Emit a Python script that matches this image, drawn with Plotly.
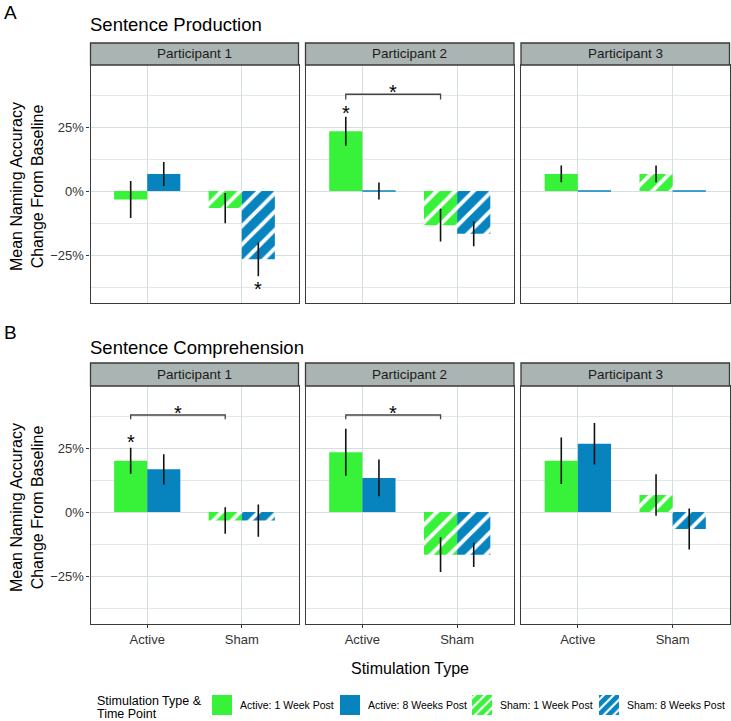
import plotly.graph_objects as go

# ---------------- data ----------------
categories = ["Active", "Sham"]
participants = ["Participant 1", "Participant 2", "Participant 3"]
series_names = ["Active: 1 Week Post", "Active: 8 Weeks Post",
                "Sham: 1 Week Post", "Sham: 8 Weeks Post"]
series_category = ["Active", "Active", "Sham", "Sham"]
series_week = ["1 Week", "8 Weeks", "1 Week", "8 Weeks"]

# mean change from baseline, order = series_names
production_p1 = [-0.0333, 0.0667, -0.0667, -0.2667]
production_p2 = [0.2333, 0.0, -0.1333, -0.1667]
production_p3 = [0.0667, 0.0, 0.0667, 0.0]
production_err_p1 = [0.072, 0.047, 0.059, 0.066]
production_err_p2 = [0.057, 0.033, 0.064, 0.049]
production_err_p3 = [0.033, 0.0, 0.033, 0.0]

comprehension_p1 = [0.20, 0.1667, -0.0333, -0.0333]
comprehension_p2 = [0.2333, 0.1333, -0.1667, -0.1667]
comprehension_p3 = [0.20, 0.2667, 0.0667, -0.0667]
comprehension_err_p1 = [0.051, 0.059, 0.052, 0.063]
comprehension_err_p2 = [0.092, 0.072, 0.068, 0.048]
comprehension_err_p3 = [0.091, 0.081, 0.081, 0.080]

# significance: single stars (section, participant index, series index, y)
star_section = ["A", "A", "B"]
star_participant = [0, 1, 0]
star_series = [3, 0, 0]
star_y = [-0.367, 0.322, 0.290]
# brackets (section, participant index, from series, to series, y, tick bottom)
bracket_section = ["A", "B", "B"]
bracket_participant = [1, 0, 1]
bracket_from = [0, 0, 0]
bracket_to = [2, 2, 2]
bracket_y = [0.378, 0.379, 0.379]
bracket_tick = [0.357, 0.362, 0.362]

y_range = [-0.4375, 0.4922]

sections = [
    dict(key="A", title="Sentence Production",
         means=[production_p1, production_p2, production_p3],
         errs=[production_err_p1, production_err_p2, production_err_p3]),
    dict(key="B", title="Sentence Comprehension",
         means=[comprehension_p1, comprehension_p2, comprehension_p3],
         errs=[comprehension_err_p1, comprehension_err_p2, comprehension_err_p3]),
]

# ---------------- style / layout ----------------
W, H = 731, 721
GREEN = "#38F23A"
BLUE = "#0784BE"
series_color = [GREEN, BLUE, GREEN, BLUE]
series_hatched = [False, False, True, True]
BAR_W = 0.35
GRID = "#D5DFDF"
MINOR = "#E0E8E8"
BORDER = "#3A3A3A"
STRIP_FILL = "#AAB4B2"
FONT = "Liberation Sans, Arial, sans-serif"

panel_x_px = [(90.5, 298.5), (305.5, 514.0), (521.0, 729.5)]
body_y_px = {"A": (65, 303), "B": (386, 624)}
strip_y_px = {"A": (43, 65), "B": (363, 386)}
title_y_px = {"A": 25, "B": 347}
letter_y_px = {"A": 13, "B": 332}


def fx(p):
    return p / W


def fy(p):
    return 1 - p / H


def offset_for(k):
    return -BAR_W if series_week[k] == "1 Week" else 0.0


def center_for(k):
    return categories.index(series_category[k]) + offset_for(k) + BAR_W / 2


fig = go.Figure()
layout = dict(shapes=[], annotations=[])
axis_ids = {}
n = 0
for s_i, sec in enumerate(sections):
    for j in range(3):
        n += 1
        axis_ids[(sec["key"], j)] = n
        xname = "xaxis" if n == 1 else f"xaxis{n}"
        yname = "yaxis" if n == 1 else f"yaxis{n}"
        x0, x1 = panel_x_px[j]
        yb0, yb1 = body_y_px[sec["key"]]
        bottom_row = sec["key"] == "B"
        layout[xname] = dict(
            domain=[fx(x0), fx(x1)], anchor=f"y{n}", type="category",
            categoryorder="array", categoryarray=categories,
            range=[-0.6, 1.6], showgrid=True, gridcolor=GRID, gridwidth=1.2,
            showline=True, mirror=True, linecolor=BORDER, linewidth=1.3,
            ticks="outside" if bottom_row else "", ticklen=3, tickcolor="#333333",
            showticklabels=bottom_row,
            tickfont=dict(size=13, color="#333333", family=FONT),
            zeroline=False, fixedrange=True)
        layout[yname] = dict(
            domain=[fy(yb1), fy(yb0)], anchor=f"x{n}", range=y_range,
            tick0=0, dtick=0.25, tickformat=".0%",
            showgrid=True, gridcolor=GRID, gridwidth=1.2,
            minor=dict(dtick=0.125, tick0=0, showgrid=True, gridcolor=MINOR, gridwidth=0.7),
            showline=True, mirror=True, linecolor=BORDER, linewidth=1.3,
            ticks="outside" if j == 0 else "", ticklen=3, tickcolor="#333333",
            showticklabels=(j == 0),
            tickfont=dict(size=13, color="#333333", family=FONT),
            zeroline=False, fixedrange=True)

        # bars
        for k in range(4):
            v = sec["means"][j][k]
            e = sec["errs"][j][k]
            pattern = (dict(shape="/", fgcolor="white", bgcolor=series_color[k],
                            size=13, solidity=0.3, fillmode="replace")
                       if series_hatched[k] else None)
            fig.add_trace(go.Bar(
                x=[series_category[k]], y=[v], width=BAR_W, offset=offset_for(k),
                marker=dict(color=series_color[k], pattern=pattern,
                            line=dict(width=1 if v == 0 else 0, color=series_color[k])),
                error_y=dict(type="data", array=[e], visible=e > 0,
                             thickness=1.6, width=0, color="#111111"),
                name=series_names[k], showlegend=False,
                xaxis=f"x{n}", yaxis=f"y{n}"))

        # strip
        sy0, sy1 = strip_y_px[sec["key"]]
        layout["shapes"].append(dict(
            type="rect", xref="paper", yref="paper",
            x0=fx(x0), x1=fx(x1), y0=fy(sy1), y1=fy(sy0),
            fillcolor=STRIP_FILL, line=dict(color=BORDER, width=1.3)))
        layout["annotations"].append(dict(
            text=participants[j], xref="paper", yref="paper",
            x=fx((x0 + x1) / 2), y=fy((sy0 + sy1) / 2),
            xanchor="center", yanchor="middle", showarrow=False,
            font=dict(size=13.5, color="#1A1A1A", family=FONT)))

    # section title and letter
    layout["annotations"].append(dict(
        text=sec["title"], xref="paper", yref="paper", x=fx(88), y=fy(title_y_px[sec["key"]]),
        xanchor="left", yanchor="middle", showarrow=False,
        font=dict(size=18.5, color="black", family=FONT)))
    layout["annotations"].append(dict(
        text=sec["key"], xref="paper", yref="paper", x=fx(2), y=fy(letter_y_px[sec["key"]]),
        xanchor="left", yanchor="middle", showarrow=False,
        font=dict(size=19, color="black", family=FONT)))
    yb0, yb1 = body_y_px[sec["key"]]
    layout["annotations"].append(dict(
        text="Mean Naming Accuracy<br>Change From Baseline", xref="paper", yref="paper",
        x=fx(27), y=fy((yb0 + yb1) / 2 + 3), textangle=-90,
        xanchor="center", yanchor="middle", showarrow=False,
        font=dict(size=16, color="black", family=FONT)))

# significance stars
for sec_key, pj, k, yv in zip(star_section, star_participant, star_series, star_y):
    n = axis_ids[(sec_key, pj)]
    layout["annotations"].append(dict(
        text="*", x=center_for(k), y=yv, xref=f"x{n}", yref=f"y{n}",
        xanchor="center", yanchor="middle", yshift=-4, showarrow=False,
        font=dict(size=20, color="black", family=FONT)))

for sec_key, pj, k0, k1, yv, yt in zip(bracket_section, bracket_participant, bracket_from,
                                        bracket_to, bracket_y, bracket_tick):
    n = axis_ids[(sec_key, pj)]
    xa, xb = center_for(k0), center_for(k1)
    layout["shapes"].append(dict(
        type="path", xref=f"x{n}", yref=f"y{n}",
        path=f"M {xa} {yt} L {xa} {yv} L {xb} {yv} L {xb} {yt}",
        line=dict(color="#444444", width=1.3)))
    layout["annotations"].append(dict(
        text="*", x=(xa + xb) / 2, y=yv + 0.024, xref=f"x{n}", yref=f"y{n}",
        xanchor="center", yanchor="middle", yshift=-4, showarrow=False,
        font=dict(size=20, color="black", family=FONT)))

# x-axis title
layout["annotations"].append(dict(
    text="Stimulation Type", xref="paper", yref="paper", x=fx(410), y=fy(668),
    xanchor="center", yanchor="middle", showarrow=False,
    font=dict(size=16, color="black", family=FONT)))

# ---------------- legend (drawn as its own small axes) ----------------
key_left_px = [212, 340, 472, 599]
KEY = 20
layout["xaxis7"] = dict(domain=[0, 1], range=[0, W], visible=False, anchor="y7", fixedrange=True)
layout["yaxis7"] = dict(domain=[fy(715), fy(695)], range=[0, 1], visible=False, anchor="x7",
                        fixedrange=True)
for k in range(4):
    pattern = (dict(shape="/", fgcolor="white", bgcolor=series_color[k],
                    size=7, solidity=0.3, fillmode="replace")
               if series_hatched[k] else None)
    fig.add_trace(go.Bar(
        x=[key_left_px[k]], y=[1], base=[0], width=KEY, offset=0,
        marker=dict(color=series_color[k], pattern=pattern, line=dict(width=0)),
        name=series_names[k], showlegend=False, xaxis="x7", yaxis="y7",
        hoverinfo="name"))
    layout["annotations"].append(dict(
        text=series_names[k], xref="paper", yref="paper",
        x=fx(key_left_px[k] + KEY + 6), y=fy(705),
        xanchor="left", yanchor="middle", showarrow=False,
        font=dict(size=10.5, color="black", family=FONT)))
legend_title_lines = ["Stimulation Type &", "Time Point"]
for line, ypx in zip(legend_title_lines, [701, 714]):
    layout["annotations"].append(dict(
        text=line, xref="paper", yref="paper",
        x=fx(95), y=fy(ypx), xanchor="left", yanchor="middle", align="left",
        showarrow=False, font=dict(size=12.5, color="black", family=FONT)))

fig.update_layout(
    width=W, height=H, margin=dict(l=0, r=0, t=0, b=0),
    paper_bgcolor="white", plot_bgcolor="white",
    barmode="overlay", showlegend=False,
    font=dict(family=FONT, color="black"),
    **layout)

fig.write_html(
    "out.html",
    config=dict(displayModeBar=False),
    post_script="document.body.style.margin='0';document.body.style.overflow='hidden';")
